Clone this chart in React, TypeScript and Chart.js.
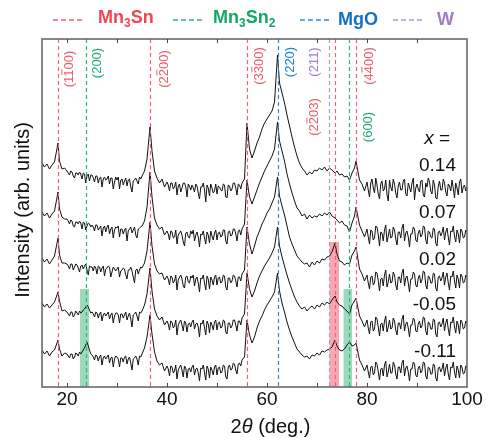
import React, { useEffect, useRef } from "react";
import { Chart, registerables } from "chart.js";

Chart.register(...registerables);

// 2θ sampling positions (deg.)
const angles = [
  15, 15.5, 16, 16.5, 17, 17.5, 18.2, 18.5, 19, 19.5,
  20, 20.25, 20.5, 20.75, 21, 21.25, 21.5, 21.75, 22, 22.25, 22.5, 22.75, 23, 23.25, 23.5, 23.75, 24, 24.25, 24.5, 24.75,
  25, 25.25, 25.5, 25.75, 26, 26.25, 26.5, 26.75, 27, 27.25, 27.5, 27.75, 28, 28.25, 28.5, 28.75, 29, 29.25, 29.5, 29.75,
  30, 30.25, 30.5, 30.75, 31, 31.25, 31.5, 31.75, 32, 32.25, 32.5, 32.75, 33, 33.25, 33.5, 33.75, 34, 34.25, 34.5, 34.75,
  35, 35.5, 36, 36.6, 37, 37.5, 38, 38.5, 39, 39.5,
  40, 40.25, 40.5, 40.75, 41, 41.25, 41.5, 41.75, 42, 42.25, 42.5, 42.75, 43, 43.25, 43.5, 43.75, 44, 44.25, 44.5, 44.75,
  45, 45.25, 45.5, 45.75, 46, 46.25, 46.5, 46.75, 47, 47.25, 47.5, 47.75, 48, 48.25, 48.5, 48.75, 49, 49.25, 49.5, 49.75,
  50, 50.25, 50.5, 50.75, 51, 51.25, 51.5, 51.75, 52, 52.25, 52.5, 52.75, 53, 53.25, 53.5, 53.75, 54, 54.25, 54.5, 54.75,
  55, 55.5, 56, 56.5, 57, 57.5, 58, 58.5, 59, 59.5,
  60, 60.5, 61, 61.5, 62.1, 62.5, 63, 63.5, 64, 64.5,
  65, 65.5, 66, 66.5, 67, 67.5, 68, 68.5, 69, 69.5,
  70, 70.5, 71, 71.5, 72, 72.5, 73, 73.6, 74, 74.5,
  75, 75.5, 76, 76.5, 77, 77.5, 77.8, 78.5, 79, 79.5,
  80, 80.25, 80.5, 80.75, 81, 81.25, 81.5, 81.75, 82, 82.25, 82.5, 82.75, 83, 83.25, 83.5, 83.75, 84, 84.25, 84.5, 84.75,
  85, 85.25, 85.5, 85.75, 86, 86.25, 86.5, 86.75, 87, 87.25, 87.5, 87.75, 88, 88.25, 88.5, 88.75, 89, 89.25, 89.5, 89.75,
  90, 90.25, 90.5, 90.75, 91, 91.25, 91.5, 91.75, 92, 92.25, 92.5, 92.75, 93, 93.25, 93.5, 93.75, 94, 94.25, 94.5, 94.75,
  95, 95.25, 95.5, 95.75, 96, 96.25, 96.5, 96.75, 97, 97.25, 97.5, 97.75, 98, 98.25, 98.5, 98.75, 99, 99.25, 99.5, 99.75,
  100,
];

// Intensity (arb. units, offset stacked)
const traceX014 = [
  224, 220, 223, 218, 222, 225, 244, 226, 218, 219,
  216, 214, 212, 216, 215, 211, 209, 214, 214, 212, 215, 213, 208, 214, 213, 204, 211, 213, 206, 212,
  212, 209, 205, 211, 211, 204, 209, 210, 200, 208, 210, 207, 208, 211, 203, 209, 209, 198, 205, 210,
  207, 210, 198, 207, 208, 202, 206, 209, 201, 207, 208, 200, 195, 206, 207, 209, 206, 203, 210, 208,
  211, 216, 228, 260, 236, 216, 209, 204, 208, 200,
  205, 202, 196, 204, 204, 198, 200, 205, 192, 201, 203, 195, 199, 204, 204, 200, 190, 203, 201, 197,
  202, 199, 195, 203, 201, 194, 188, 200, 200, 204, 197, 185, 202, 199, 191, 203, 199, 194, 196, 203,
  193, 201, 200, 197, 196, 203, 202, 190, 189, 202, 201, 196, 198, 204, 204, 199, 192, 203, 202, 198,
  204, 208, 264, 238, 229, 236, 244, 250, 258, 264,
  268, 272, 276, 285, 332, 304, 294, 284, 272, 261,
  250, 240, 231, 224, 219, 216, 212, 215, 213, 217,
  216, 219, 217, 220, 216, 219, 217, 214, 216, 212,
  213, 210, 211, 207, 214, 219, 226, 207, 203, 196,
  205, 197, 190, 204, 208, 199, 194, 209, 202, 193, 188, 203, 206, 196, 198, 207, 192, 186, 207, 200,
  196, 208, 203, 194, 189, 201, 205, 197, 197, 206, 208, 193, 191, 204, 200, 195, 204, 209, 187, 199,
  203, 198, 195, 206, 207, 192, 190, 204, 200, 209, 205, 196, 193, 207, 202, 189, 188, 201, 206, 197,
  197, 208, 204, 195, 191, 203, 201, 196, 207, 199, 189, 204, 199, 192, 205, 208, 194, 200, 202, 196,
  200,
];
const traceX007 = [
  175, 171, 174, 169, 173, 176, 195, 178, 170, 168,
  168, 166, 163, 167, 166, 161, 160, 165, 165, 163, 166, 164, 158, 165, 164, 157, 161, 164, 163, 160,
  162, 160, 156, 162, 162, 157, 159, 161, 151, 159, 161, 155, 160, 162, 153, 158, 160, 149, 157, 160,
  159, 161, 150, 158, 158, 153, 157, 159, 146, 156, 158, 160, 154, 157, 160, 152, 149, 158, 159, 160,
  161, 166, 180, 215, 190, 169, 162, 158, 160, 152,
  156, 153, 147, 156, 155, 149, 150, 157, 143, 152, 154, 156, 152, 145, 141, 154, 155, 150, 149, 156,
  153, 157, 146, 152, 155, 150, 140, 153, 152, 156, 149, 143, 155, 152, 144, 156, 151, 147, 154, 157,
  147, 154, 155, 150, 151, 157, 157, 146, 143, 155, 156, 151, 152, 158, 158, 153, 146, 156, 157, 152,
  158, 163, 207, 190, 183, 190, 197, 204, 210, 216,
  221, 226, 231, 238, 265, 246, 236, 226, 213, 203,
  194, 186, 179, 176, 171, 173, 168, 172, 169, 171,
  170, 173, 171, 174, 172, 175, 171, 169, 167, 164,
  166, 162, 161, 155, 164, 171, 180, 162, 156, 150,
  158, 150, 143, 157, 156, 147, 149, 161, 160, 152, 141, 155, 154, 146, 157, 162, 145, 151, 158, 149,
  150, 160, 157, 148, 142, 155, 155, 149, 159, 163, 146, 154, 156, 150, 140, 153, 153, 160, 158, 147,
  145, 154, 157, 150, 152, 161, 160, 147, 143, 156, 155, 150, 149, 159, 158, 144, 141, 155, 156, 151,
  154, 160, 147, 155, 159, 150, 142, 156, 155, 161, 151, 145, 157, 153, 144, 158, 156, 149, 150, 157,
  155,
];
const traceX002 = [
  129, 125, 128, 123, 127, 131, 149, 132, 124, 124,
  123, 121, 118, 123, 123, 117, 120, 123, 122, 119, 115, 121, 122, 118, 121, 123, 117, 112, 121, 120,
  120, 116, 121, 119, 113, 121, 120, 115, 119, 121, 111, 118, 119, 121, 120, 110, 115, 120, 118, 116,
  118, 120, 110, 116, 117, 119, 118, 112, 108, 117, 117, 120, 116, 110, 104, 117, 118, 113, 117, 120,
  119, 124, 136, 165, 141, 123, 116, 113, 114, 107,
  111, 108, 102, 111, 110, 104, 106, 112, 97, 107, 110, 112, 108, 101, 99, 110, 111, 105, 104, 111,
  109, 112, 101, 108, 110, 104, 95, 109, 108, 112, 104, 97, 111, 108, 98, 110, 107, 102, 110, 112,
  102, 109, 110, 104, 105, 112, 111, 100, 97, 109, 109, 104, 106, 112, 111, 106, 100, 110, 110, 106,
  113, 117, 160, 143, 133, 141, 150, 156, 163, 168,
  174, 178, 184, 190, 210, 191, 181, 172, 161, 150,
  143, 137, 131, 128, 125, 123, 124, 120, 125, 122,
  126, 124, 128, 127, 130, 131, 135, 144, 133, 126,
  125, 122, 124, 123, 132, 136, 140, 118, 113, 106,
  112, 104, 98, 110, 111, 102, 104, 115, 114, 106, 96, 108, 109, 101, 112, 117, 100, 105, 113, 104,
  105, 115, 112, 102, 97, 110, 110, 104, 114, 118, 101, 109, 111, 104, 95, 108, 108, 115, 113, 102,
  100, 109, 112, 104, 107, 116, 115, 102, 98, 111, 110, 104, 104, 114, 113, 99, 96, 110, 111, 106,
  109, 115, 102, 110, 114, 104, 97, 111, 110, 116, 106, 99, 112, 108, 99, 113, 111, 104, 105, 112,
  110,
];
const traceXm005 = [
  84, 80, 83, 79, 82, 85, 95, 86, 76, 77,
  75, 73, 71, 75, 75, 70, 72, 76, 74, 72, 76, 74, 75, 77, 78, 80, 82, 80, 77, 74,
  75, 73, 70, 75, 74, 69, 73, 75, 66, 72, 74, 71, 73, 75, 68, 72, 74, 64, 71, 74,
  74, 72, 64, 73, 73, 69, 72, 75, 67, 71, 74, 68, 60, 72, 73, 75, 71, 66, 75, 74,
  76, 82, 93, 119, 96, 78, 71, 67, 70, 62,
  66, 63, 57, 66, 65, 59, 61, 67, 52, 62, 65, 67, 62, 56, 66, 64, 55, 63, 64, 60,
  65, 67, 58, 63, 64, 60, 50, 64, 63, 67, 59, 52, 66, 63, 54, 65, 62, 57, 65, 67,
  57, 64, 65, 59, 60, 67, 66, 55, 53, 64, 64, 59, 61, 67, 67, 62, 56, 66, 66, 62,
  69, 73, 114, 98, 90, 96, 104, 111, 116, 121,
  125, 129, 134, 140, 160, 141, 130, 121, 112, 104,
  97, 90, 85, 81, 78, 80, 76, 79, 81, 78,
  82, 80, 84, 82, 85, 83, 87, 91, 85, 82,
  81, 78, 76, 73, 82, 86, 89, 71, 66, 60,
  67, 59, 53, 65, 66, 56, 58, 70, 68, 60, 51, 63, 64, 56, 66, 71, 55, 60, 67, 58,
  59, 69, 66, 57, 52, 64, 64, 58, 68, 72, 56, 63, 65, 59, 50, 62, 62, 69, 67, 56,
  55, 63, 66, 59, 61, 70, 69, 56, 52, 65, 64, 58, 58, 68, 67, 53, 50, 64, 65, 60,
  63, 69, 56, 64, 68, 58, 51, 65, 64, 70, 60, 54, 66, 62, 53, 67, 65, 58, 59, 66,
  64,
];
const traceXm011 = [
  37, 33, 36, 31, 35, 37, 47, 38, 31, 34,
  33, 31, 29, 33, 33, 28, 30, 34, 33, 31, 35, 33, 35, 37, 39, 42, 45, 41, 37, 33,
  32, 30, 27, 32, 31, 26, 30, 32, 22, 29, 31, 28, 30, 32, 24, 29, 30, 20, 28, 31,
  30, 28, 20, 29, 29, 25, 30, 31, 23, 28, 30, 24, 17, 28, 29, 31, 28, 22, 31, 30,
  33, 39, 50, 72, 53, 35, 26, 22, 24, 16,
  21, 18, 11, 21, 20, 14, 16, 22, 8, 17, 20, 22, 17, 10, 21, 19, 9, 18, 19, 15,
  20, 22, 12, 18, 19, 14, 6, 19, 18, 22, 14, 7, 21, 18, 9, 20, 17, 12, 20, 22,
  12, 19, 20, 14, 15, 22, 21, 10, 8, 20, 22, 17, 18, 24, 23, 17, 13, 23, 24, 21,
  27, 30, 67, 52, 44, 50, 59, 66, 71, 77,
  82, 86, 90, 95, 114, 96, 84, 75, 65, 57,
  50, 44, 38, 35, 32, 30, 31, 28, 32, 31,
  34, 32, 36, 35, 37, 38, 40, 47, 41, 37,
  36, 38, 42, 45, 41, 42, 44, 27, 22, 16,
  22, 15, 9, 20, 21, 12, 14, 25, 23, 15, 7, 18, 19, 11, 22, 26, 10, 15, 23, 14,
  14, 25, 22, 13, 8, 20, 20, 14, 24, 27, 11, 19, 21, 15, 6, 18, 18, 25, 23, 12,
  10, 19, 21, 14, 16, 25, 24, 11, 8, 20, 19, 13, 13, 23, 22, 9, 6, 19, 20, 15,
  18, 24, 11, 19, 23, 13, 7, 20, 19, 25, 15, 9, 21, 17, 9, 22, 20, 13, 14, 21,
  20,
];

const traces = [traceX014, traceX007, traceX002, traceXm005, traceXm011];
const compositions = ["0.14", "0.07", "0.02", "-0.05", "-0.11"];
const compositionLabelLevels = [216, 169, 122, 77, 30];

// Reference peak positions (deg.)
const mn3snPeaks = [18.2, 36.6, 56.0, 73.5, 77.8];
const mn3sn2Peaks = [23.8, 76.3];
const mgoPeaks = [62.1];
const wPeaks = [72.4];

const xTickLabels = [20, 40, 60, 80, 100];
const xTickMarks = [20, 30, 40, 50, 60, 70, 80, 90];

const RED = "#f0606d";
const GREEN = "#2db478";
const BLUE = "#2a8ad6";
const PURPLE = "#b597d8";

const phaseLines = [
  { peaks: mn3snPeaks, color: RED },
  { peaks: mn3sn2Peaks, color: GREEN },
  { peaks: mgoPeaks, color: BLUE },
  { peaks: wPeaks, color: PURPLE },
];

// Highlighted ranges
const highlights = [
  { from: 22.6, to: 24.4, top: 98, color: "rgba(60,180,120,0.5)" },
  { from: 72.5, to: 74.4, top: 145, color: "rgba(238,80,95,0.5)" },
  { from: 75.3, to: 77.0, top: 98, color: "rgba(60,180,120,0.5)" },
];

// Miller index labels: text, overbar char index (-1 none), angle, level
const peakLabels = [
  { text: "(1100)", bar: 2, at: 20.2, level: 318, color: "#ef5a67" },
  { text: "(200)", bar: -1, at: 25.8, level: 324, color: "#22a96c" },
  { text: "(2200)", bar: 2, at: 39.2, level: 318, color: "#ef5a67" },
  { text: "(3300)", bar: 2, at: 58.2, level: 321, color: "#ef5a67" },
  { text: "(220)", bar: -1, at: 64.4, level: 325, color: "#1f82cf" },
  { text: "(211)", bar: -1, at: 69.2, level: 325, color: "#a07ccb" },
  { text: "(2203)", bar: 2, at: 69.2, level: 270, color: "#ef5a67" },
  { text: "(4400)", bar: 2, at: 80.2, level: 321, color: "#ef5a67" },
  { text: "(600)", bar: -1, at: 80.0, level: 260, color: "#22a96c" },
];

const FONT = '"Liberation Sans", Arial, Helvetica, sans-serif';

function drawParts(ctx: CanvasRenderingContext2D, parts: { t: string; sub?: boolean }[], x: number, y: number, size: number, color: string) {
  let cx = x;
  ctx.fillStyle = color;
  ctx.textAlign = "left";
  ctx.textBaseline = "alphabetic";
  for (const p of parts) {
    ctx.font = `bold ${p.sub ? Math.round(size * 0.68) : size}px ${FONT}`;
    ctx.fillText(p.t, cx, p.sub ? y + 4 : y);
    cx += ctx.measureText(p.t).width;
  }
}

function drawLegendDash(ctx: CanvasRenderingContext2D, x1: number, x2: number, y: number, color: string) {
  ctx.save();
  ctx.strokeStyle = color;
  ctx.lineWidth = 1.5;
  ctx.setLineDash([5, 3]);
  ctx.beginPath();
  ctx.moveTo(x1, y);
  ctx.lineTo(x2, y);
  ctx.stroke();
  ctx.restore();
}

const decorPlugin = {
  id: "decor",
  beforeDatasetsDraw(chart: any) {
    const { ctx, chartArea, scales } = chart;
    const xs = scales.x, ys = scales.y;
    ctx.save();
    for (const h of highlights) {
      const x1 = xs.getPixelForValue(h.from);
      const x2 = xs.getPixelForValue(h.to);
      const yt = ys.getPixelForValue(h.top);
      ctx.fillStyle = h.color;
      ctx.fillRect(x1, yt, x2 - x1, chartArea.bottom - yt);
    }
    ctx.restore();
  },
  afterDatasetsDraw(chart: any) {
    const { ctx, chartArea, scales } = chart;
    const xs = scales.x;
    ctx.save();
    ctx.lineWidth = 1.2;
    ctx.setLineDash([4, 3]);
    for (const ph of phaseLines) {
      ctx.strokeStyle = ph.color;
      for (const p of ph.peaks) {
        const px = Math.round(xs.getPixelForValue(p)) + 0.5;
        ctx.beginPath();
        ctx.moveTo(px, chartArea.top);
        ctx.lineTo(px, chartArea.bottom);
        ctx.stroke();
      }
    }
    ctx.restore();
  },
  afterDraw(chart: any) {
    const { ctx, chartArea, scales } = chart;
    const xs = scales.x, ys = scales.y;
    const { left, right, top, bottom } = chartArea;
    ctx.save();

    // frame
    ctx.strokeStyle = "#6a6a6a";
    ctx.lineWidth = 1.6;
    ctx.strokeRect(left, top, right - left, bottom - top);

    // inward ticks top & bottom
    ctx.lineWidth = 1;
    ctx.strokeStyle = "#444";
    for (const t of xTickMarks) {
      const px = Math.round(xs.getPixelForValue(t)) + 0.5;
      ctx.beginPath();
      ctx.moveTo(px, bottom);
      ctx.lineTo(px, bottom - 4);
      ctx.moveTo(px, top);
      ctx.lineTo(px, top + 4);
      ctx.stroke();
    }

    // tick labels
    ctx.fillStyle = "#111";
    ctx.font = `19px ${FONT}`;
    ctx.textAlign = "center";
    ctx.textBaseline = "alphabetic";
    for (const t of xTickLabels) {
      ctx.fillText(String(t), xs.getPixelForValue(t), bottom + 18);
    }

    // x title: 2θ (deg.)
    ctx.font = `20px ${FONT}`;
    const w1 = ctx.measureText("2").width;
    ctx.font = `italic 20px ${FONT}`;
    const w2 = ctx.measureText("θ").width;
    ctx.font = `20px ${FONT}`;
    const w3 = ctx.measureText(" (deg.)").width;
    const cx = (left + right) / 2 + 16;
    let sx = cx - (w1 + w2 + w3) / 2;
    ctx.textAlign = "left";
    ctx.fillText("2", sx, 433);
    sx += w1;
    ctx.font = `italic 20px ${FONT}`;
    ctx.fillText("θ", sx, 433);
    sx += w2;
    ctx.font = `20px ${FONT}`;
    ctx.fillText(" (deg.)", sx, 433);

    // y title
    ctx.save();
    ctx.translate(29, (top + bottom) / 2 - 3);
    ctx.rotate(-Math.PI / 2);
    ctx.textAlign = "center";
    ctx.font = `20px ${FONT}`;
    ctx.fillText("Intensity (arb. units)", 0, 0);
    ctx.restore();

    // peak labels (rotated)
    for (const lb of peakLabels) {
      const px = xs.getPixelForValue(lb.at);
      const py = ys.getPixelForValue(lb.level);
      const fs = 13;
      ctx.save();
      ctx.translate(px, py);
      ctx.rotate(-Math.PI / 2);
      ctx.font = `${fs}px ${FONT}`;
      ctx.fillStyle = lb.color;
      ctx.strokeStyle = lb.color;
      ctx.textAlign = "left";
      ctx.textBaseline = "alphabetic";
      const W = ctx.measureText(lb.text).width;
      const x0 = -W / 2;
      const base = fs * 0.36;
      ctx.fillText(lb.text, x0, base);
      if (lb.bar >= 0) {
        const pre = ctx.measureText(lb.text.slice(0, lb.bar)).width;
        const cw = ctx.measureText(lb.text[lb.bar]).width;
        const by = base - fs * 0.716 - 1.5;
        ctx.lineWidth = 1;
        ctx.beginPath();
        ctx.moveTo(x0 + pre + 0.8, by);
        ctx.lineTo(x0 + pre + cw - 0.8, by);
        ctx.stroke();
      }
      ctx.restore();
    }

    // composition labels
    const rx = xs.getPixelForValue(100) - 11;
    ctx.fillStyle = "#111";
    ctx.textAlign = "left";
    ctx.font = `italic 19px ${FONT}`;
    const wx = ctx.measureText("x").width;
    ctx.font = `19px ${FONT}`;
    const weq = ctx.measureText(" =").width;
    const xl = rx - 6 - (wx + weq);
    ctx.font = `italic 19px ${FONT}`;
    ctx.fillText("x", xl, 144);
    ctx.font = `19px ${FONT}`;
    ctx.fillText(" =", xl + wx, 144);
    ctx.textAlign = "right";
    compositions.forEach((c, i) => {
      ctx.fillText(c, rx, ys.getPixelForValue(compositionLabelLevels[i]));
    });

    // legend
    drawLegendDash(ctx, 53, 84, 20, RED);
    drawParts(ctx, [{ t: "Mn" }, { t: "3", sub: true }, { t: "Sn" }], 98, 23, 18, "#f04654");
    drawLegendDash(ctx, 173, 204, 20, GREEN);
    drawParts(ctx, [{ t: "Mn" }, { t: "3", sub: true }, { t: "Sn" }, { t: "2", sub: true }], 213, 23, 18, "#12a765");
    drawLegendDash(ctx, 300, 331, 20, BLUE);
    drawParts(ctx, [{ t: "MgO" }], 338, 25, 18, "#0f72c4");
    drawLegendDash(ctx, 393, 424, 20, PURPLE);
    drawParts(ctx, [{ t: "W" }], 437, 25, 18, "#a07cc8");

    ctx.restore();
  },
};

export default function App() {
  const canvasRef = useRef<HTMLCanvasElement | null>(null);

  useEffect(() => {
    if (!canvasRef.current) return;
    const datasets = traces.map((tr, k) => ({
      label: `x = ${compositions[k]}`,
      data: angles.map((a, i) => ({ x: a, y: tr[i] })),
      borderColor: "#111111",
      borderWidth: 1,
      pointRadius: 0,
      tension: 0,
      fill: false,
    }));
    const chart = new Chart(canvasRef.current, {
      type: "line",
      data: { datasets },
      options: {
        animation: false,
        responsive: false,
        maintainAspectRatio: false,
        devicePixelRatio: 1,
        layout: { padding: { left: 42, right: 24, top: 39, bottom: 51 } },
        scales: {
          x: { type: "linear", min: 15, max: 100, display: false },
          y: { type: "linear", min: 0, max: 348, display: false },
        },
        plugins: {
          legend: { display: false },
          tooltip: { enabled: false },
        },
      },
      plugins: [decorPlugin],
    } as any);
    return () => chart.destroy();
  }, []);

  return (
    <div style={{ position: "fixed", left: 0, top: 0, width: 491, height: 438, background: "#fff" }}>
      <canvas ref={canvasRef} width={491} height={438} style={{ width: 491, height: 438 }} />
    </div>
  );
}
